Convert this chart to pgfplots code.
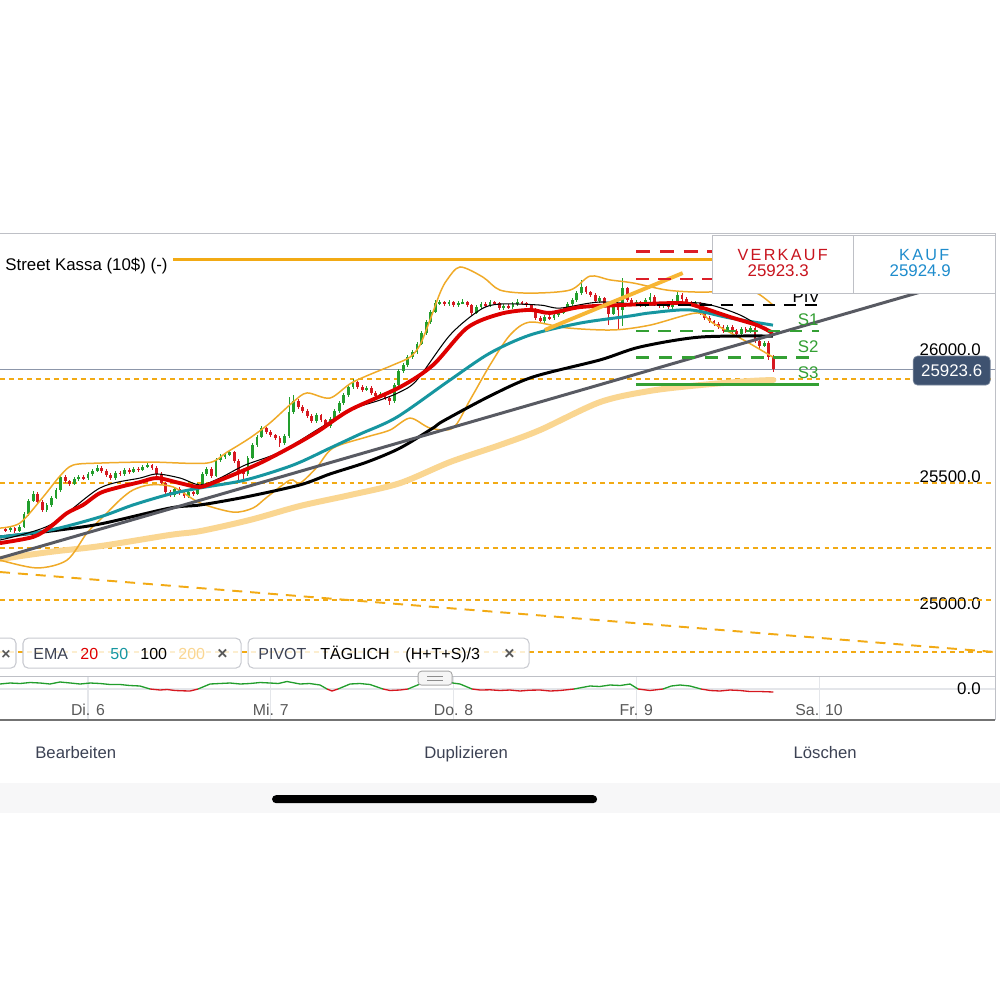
\documentclass[border=0pt]{standalone}
\usepackage{fontspec}
\setmainfont{Liberation Sans}
\usepackage{pgfplots}
\pgfplotsset{compat=1.18}
\usepackage{pgfplotstable}
\usepgfplotslibrary{fillbetween}

\definecolor{cgreen}{RGB}{34,158,44}
\definecolor{cred}{RGB}{214,24,32}
\definecolor{ema20}{RGB}{222,0,0}
\definecolor{ema50}{RGB}{22,150,160}
\definecolor{ema200}{RGB}{250,214,145}
\definecolor{bband}{RGB}{240,170,40}
\definecolor{bfill}{RGB}{253,246,236}
\definecolor{orng}{RGB}{242,170,20}
\definecolor{trendgray}{RGB}{88,90,98}
\definecolor{otrend}{RGB}{247,182,52}
\definecolor{pivgreen}{RGB}{52,160,52}
\definecolor{pivred}{RGB}{220,30,40}
\definecolor{tagblue}{RGB}{62,82,112}
\definecolor{kaufblue}{RGB}{30,140,205}
\definecolor{verkred}{RGB}{200,20,30}
\definecolor{uigray}{RGB}{60,66,84}
\definecolor{gridc}{RGB}{228,230,234}
\definecolor{framec}{RGB}{190,192,198}
\definecolor{pricel}{RGB}{140,150,170}
\definecolor{chipb}{RGB}{200,202,208}
\definecolor{bandgray}{RGB}{247,247,248}

\pgfplotstableread{
x o h l c
-10.8 25295 25302 25284 25291
-10.2 25291 25306 25285 25299
-9.6 25299 25305 25280 25287
-9.0 25287 25310 25282 25303
-8.4 25303 25362 25298 25354
-7.8 25354 25414 25348 25406
-7.2 25406 25445 25400 25433
-6.6 25433 25440 25395 25402
-6.0 25402 25408 25362 25370
-5.4 25370 25398 25364 25390
-4.8 25390 25425 25384 25418
-4.2 25418 25458 25412 25449
-3.6 25449 25510 25442 25500
-3.0 25500 25508 25476 25484
-2.4 25484 25490 25465 25473
-1.8 25473 25500 25468 25492
-1.2 25492 25510 25486 25500
-0.6 25500 25507 25488 25496
0.0 25496 25520 25490 25512
0.6 25512 25532 25506 25524
1.2 25524 25548 25518 25536
1.8 25536 25542 25516 25524
2.4 25524 25530 25500 25508
3.0 25508 25514 25488 25496
3.6 25496 25522 25490 25516
4.2 25516 25523 25505 25512
4.8 25512 25535 25506 25528
5.4 25528 25534 25513 25520
6.0 25520 25540 25515 25532
6.6 25532 25538 25521 25528
7.2 25528 25548 25522 25540
7.8 25540 25560 25534 25547
8.4 25547 25553 25529 25536
9.0 25536 25542 25505 25512
9.6 25512 25518 25468 25476
10.2 25476 25482 25433 25441
10.8 25441 25448 25420 25429
11.4 25429 25460 25423 25453
12.0 25453 25459 25430 25437
12.6 25437 25443 25417 25425
13.2 25425 25448 25419 25441
13.8 25441 25447 25426 25433
14.4 25433 25476 25428 25469
15.0 25469 25520 25463 25512
15.6 25512 25540 25506 25532
16.2 25532 25538 25497 25504
16.8 25504 25575 25499 25567
17.4 25567 25590 25560 25579
18.0 25579 25596 25572 25587
18.6 25587 25606 25581 25598
19.2 25598 25603 25556 25563
19.8 25563 25570 25488 25520
20.4 25520 25528 25490 25512
21.0 25512 25582 25506 25575
21.6 25575 25634 25569 25626
22.2 25626 25666 25620 25658
22.8 25658 25702 25652 25693
23.4 25693 25699 25670 25677
24.0 25677 25684 25657 25665
24.6 25665 25671 25646 25654
25.2 25654 25660 25618 25634
25.8 25634 25668 25628 25661
26.4 25661 25815 25655 25756
27.0 25756 25823 25750 25799
27.6 25799 25806 25769 25776
28.2 25776 25783 25752 25760
28.8 25760 25767 25732 25740
29.4 25740 25747 25712 25720
30.0 25720 25751 25714 25744
30.6 25744 25750 25716 25724
31.2 25724 25730 25693 25701
31.8 25701 25735 25695 25728
32.4 25728 25768 25722 25760
33.0 25760 25799 25754 25791
33.6 25791 25831 25785 25823
34.2 25823 25862 25817 25854
34.8 25854 25884 25848 25874
35.4 25874 25880 25846 25854
36.0 25854 25861 25835 25843
36.6 25843 25858 25837 25850
37.2 25850 25857 25823 25831
37.8 25831 25838 25811 25819
38.4 25819 25835 25813 25827
39.0 25827 25833 25803 25811
39.6 25811 25818 25784 25799
40.2 25799 25870 25793 25862
40.8 25862 25925 25856 25917
41.4 25917 25950 25911 25941
42.0 25941 25980 25935 25972
42.6 25972 26000 25966 25992
43.2 25992 26032 25986 26024
43.8 26024 26075 26018 26067
44.4 26067 26118 26061 26110
45.0 26110 26158 26104 26150
45.6 26150 26196 26144 26185
46.2 26185 26198 26179 26189
46.8 26189 26195 26174 26181
47.4 26181 26197 26175 26189
48.0 26189 26194 26170 26177
48.6 26177 26192 26171 26185
49.2 26185 26200 26180 26189
49.8 26189 26195 26170 26177
50.4 26177 26182 26138 26146
51.0 26146 26176 26140 26169
51.6 26169 26188 26163 26181
52.2 26181 26190 26170 26177
52.8 26177 26196 26171 26189
53.4 26189 26195 26178 26185
54.0 26185 26190 26158 26165
54.6 26165 26180 26159 26173
55.2 26173 26180 26162 26169
55.8 26169 26188 26163 26181
56.4 26181 26200 26175 26189
57.0 26189 26195 26178 26185
57.6 26185 26191 26170 26177
58.2 26177 26183 26150 26158
58.8 26158 26164 26118 26126
59.4 26126 26132 26106 26114
60.0 26114 26137 26108 26130
60.6 26130 26137 26119 26126
61.2 26126 26145 26120 26138
61.8 26138 26153 26132 26146
62.4 26146 26165 26140 26158
63.0 26158 26188 26152 26181
63.6 26181 26205 26175 26197
64.2 26197 26232 26191 26224
64.8 26224 26276 26218 26248
65.4 26248 26254 26220 26228
66.0 26228 26234 26209 26217
66.6 26217 26223 26185 26193
67.2 26193 26212 26187 26205
67.8 26205 26210 26169 26177
68.4 26177 26183 26099 26142
69.0 26142 26180 26136 26173
69.6 26173 26179 26079 26158
70.2 26158 26284 26095 26244
70.8 26244 26250 26190 26197
71.4 26197 26203 26173 26181
72.0 26181 26196 26175 26189
72.6 26189 26195 26170 26177
73.2 26177 26204 26171 26197
73.8 26197 26224 26191 26209
74.4 26209 26215 26174 26181
75.0 26181 26188 26166 26173
75.6 26173 26188 26167 26181
76.2 26181 26187 26162 26169
76.8 26169 26200 26163 26193
77.4 26193 26232 26187 26217
78.0 26217 26223 26194 26201
78.6 26201 26207 26182 26189
79.2 26189 26195 26174 26181
79.8 26181 26193 26175 26185
80.4 26185 26191 26138 26146
81.0 26146 26152 26118 26126
81.6 26126 26132 26106 26114
82.2 26114 26120 26095 26103
82.8 26103 26109 26083 26091
83.4 26091 26097 26067 26075
84.0 26075 26099 26069 26091
84.6 26091 26097 26067 26075
85.2 26075 26081 26055 26063
85.8 26063 26091 26057 26083
86.4 26083 26089 26068 26075
87.0 26075 26094 26069 26087
87.6 26087 26093 26028 26036
88.2 26036 26042 26006 26016
88.8 26016 26036 26010 26028
89.4 26028 26034 25962 25972
90.0 25972 25980 25915 25923.6
}\candles

\pgfplotsset{
  candle/.style n args={2}{draw=none, mark=none, forget plot,
    error bars/y dir=both, error bars/y explicit, error bars/error mark=none,
    error bars/error bar style={draw=#1, line width=#2}},
}

\begin{document}
\begin{tikzpicture}
\begin{scope}[x=0.02cm,y=-0.02cm]
\fill[white] (0,0) rectangle (1000,1000);
\fill[bandgray] (0,783) rectangle (1000,813);
\end{scope}

% ---------------- main price panel ----------------
\begin{axis}[
  at={(0cm,-4.66cm)}, anchor=north west,
  scale only axis, width=19.9cm, height=8.86cm,
  xmin=-11.56, xmax=119.11, ymin=24716.6, ymax=26460.7,
  axis line style={draw=none},
  xtick={0,24,48,72,96}, xticklabels={}, xmajorgrids,
  ytick={25000,25500,26000}, ymajorgrids,
  scaled y ticks=false,
  grid style={gridc, line width=0.6pt},
  major tick length=0pt,
  yticklabel pos=right,
  yticklabel style={anchor=east, inner sep=0pt, xshift=-0.28cm,
    font=\fontsize{9.6}{11}\selectfont, text=black},
  /pgf/number format/fixed, /pgf/number format/fixed zerofill,
  /pgf/number format/precision=1, /pgf/number format/1000 sep={},
  /pgf/number format/assume math mode=true,
]
% Bollinger band area
\addplot[name path=bbu, draw=none, smooth] coordinates {(-11.56,25299) (-8.93,25319) (-5.91,25421) (-3.68,25504) (-1.97,25547) (1.58,25555) (8.14,25559) (15.63,25555) (18.25,25598) (21.27,25654) (23.90,25713) (26.92,25795) (28.76,25831) (31.78,25811) (34.80,25874) (40.05,25941) (42.28,25972) (43.60,26020) (44.91,26118) (46.22,26224) (47.14,26276) (48.85,26327) (51.87,26287) (54.10,26236) (58.04,26224) (63.30,26236) (65.92,26291) (68.55,26276) (71.57,26264) (76.03,26236) (80.37,26228) (85.62,26232) (87.85,26224) (89.95,26177)};
\addplot[name path=bbl, draw=none, smooth] coordinates {(-11.56,25173) (-6.70,25142) (-2.76,25173) (-0.13,25280) (1.97,25343) (4.20,25410) (5.91,25449) (8.14,25469) (11.16,25461) (14.71,25398) (19.04,25362) (21.67,25378) (23.51,25421) (26.53,25488) (27.84,25476) (30.07,25539) (32.17,25614) (36.64,25658) (39.66,25685) (42.28,25732) (44.91,25693) (47.93,25693) (50.16,25803) (52.79,25941) (55.42,26059) (58.04,26110) (62.90,26087) (68.94,26079) (73.80,26098) (79.97,26146) (82.07,26106) (86.54,26032) (89.95,25972)};
\addplot[bfill] fill between[of=bbu and bbl];

% horizontal orange dotted levels
\addplot[orng, line width=0.85pt, dash pattern=on 2.8pt off 2.3pt] coordinates {(-11.56,25886) (119.11,25886)};
\addplot[orng, line width=0.85pt, dash pattern=on 2.8pt off 2.3pt] coordinates {(-11.56,25476) (119.11,25476)};
\addplot[orng, line width=0.85pt, dash pattern=on 2.8pt off 2.3pt] coordinates {(-11.56,25220) (119.11,25220)};
\addplot[orng, line width=0.85pt, dash pattern=on 2.8pt off 2.3pt] coordinates {(-11.56,25016) (119.11,25016)};
\addplot[orng, line width=0.85pt, dash pattern=on 2.8pt off 2.3pt] coordinates {(-11.56,24811) (119.11,24811)};
% current price line
\addplot[pricel, line width=0.6pt] coordinates {(-11.56,25923.6) (119.11,25923.6)};
% descending dashed trend
\addplot[orng, line width=1.1pt, dash pattern=on 5.7pt off 4.5pt] coordinates {(-11.56,25126) (119.11,24811)};
% Street Kassa level
\addplot[orng, line width=1.7pt] coordinates {(11.16,26358) (119.11,26358)};

% EMA 200
\addplot[ema200, line width=3.4pt, smooth, line cap=round] coordinates {(-11.56,25177) (-4.99,25205) (1.58,25228) (10.77,25272) (14.71,25287) (21.27,25331) (27.84,25386) (34.41,25429) (40.97,25476) (47.54,25559) (54.10,25626) (59.36,25685) (67.24,25795) (73.80,25839) (80.37,25862) (86.93,25878) (90.0,25882)};

% candles: wicks
\addplot[restrict expr to domain={\thisrow{c}-\thisrow{o}}{0:100000}, candle={cgreen}{0.5pt}]
  table[x=x, y expr=(\thisrow{h}+\thisrow{l})/2, y error expr=(\thisrow{h}-\thisrow{l})/2] {\candles};
\addplot[restrict expr to domain={\thisrow{o}-\thisrow{c}}{0.01:100000}, candle={cred}{0.5pt}]
  table[x=x, y expr=(\thisrow{h}+\thisrow{l})/2, y error expr=(\thisrow{h}-\thisrow{l})/2] {\candles};
% candles: bodies
\addplot[restrict expr to domain={\thisrow{c}-\thisrow{o}}{0:100000}, candle={cgreen}{1.6pt}]
  table[x=x, y expr=(\thisrow{o}+\thisrow{c})/2, y error expr=(\thisrow{c}-\thisrow{o})/2] {\candles};
\addplot[restrict expr to domain={\thisrow{o}-\thisrow{c}}{0.01:100000}, candle={cred}{1.6pt}]
  table[x=x, y expr=(\thisrow{o}+\thisrow{c})/2, y error expr=(\thisrow{o}-\thisrow{c})/2] {\candles};

% Bollinger lines
\addplot[bband, line width=0.85pt, smooth] coordinates {(-11.56,25299) (-8.93,25319) (-5.91,25421) (-3.68,25504) (-1.97,25547) (1.58,25555) (8.14,25559) (15.63,25555) (18.25,25598) (21.27,25654) (23.90,25713) (26.92,25795) (28.76,25831) (31.78,25811) (34.80,25874) (40.05,25941) (42.28,25972) (43.60,26020) (44.91,26118) (46.22,26224) (47.14,26276) (48.85,26327) (51.87,26287) (54.10,26236) (58.04,26224) (63.30,26236) (65.92,26291) (68.55,26276) (71.57,26264) (76.03,26236) (80.37,26228) (85.62,26232) (87.85,26224) (89.95,26177)};
\addplot[bband, line width=0.85pt, smooth] coordinates {(-11.56,25173) (-6.70,25142) (-2.76,25173) (-0.13,25280) (1.97,25343) (4.20,25410) (5.91,25449) (8.14,25469) (11.16,25461) (14.71,25398) (19.04,25362) (21.67,25378) (23.51,25421) (26.53,25488) (27.84,25476) (30.07,25539) (32.17,25614) (36.64,25658) (39.66,25685) (42.28,25732) (44.91,25693) (47.93,25693) (50.16,25803) (52.79,25941) (55.42,26059) (58.04,26110) (62.90,26087) (68.94,26079) (73.80,26098) (79.97,26146) (82.07,26106) (86.54,26032) (89.95,25972)};

% EMA 100
\addplot[black, line width=1.7pt, smooth] coordinates {(-11.56,25264) (-4.99,25287) (1.58,25315) (10.77,25378) (14.71,25390) (20.62,25421) (27.84,25469) (31.78,25512) (36.64,25559) (40.97,25614) (45.31,25693) (46.62,25720) (52.79,25819) (58.44,25894) (67.24,25961) (72.49,26012) (80.37,26051) (89.95,26055)};
% EMA 50
\addplot[ema50, line width=1.7pt, smooth] coordinates {(-11.56,25264) (-4.99,25291) (1.58,25343) (5.91,25390) (10.77,25433) (14.71,25457) (20.62,25488) (26.92,25547) (31.78,25614) (35.72,25669) (40.58,25736) (47.54,25882) (52.79,25988) (58.04,26059) (64.61,26106) (71.18,26134) (73.80,26146) (79.05,26158) (84.31,26126) (89.95,26098)};
% thin middle line
\addplot[black, line width=0.6pt, smooth] coordinates {(-11.56,25252) (-4.99,25311) (1.58,25457) (6.83,25496) (9.06,25512) (12.08,25496) (14.71,25469) (17.33,25496) (20.62,25547) (25.21,25598) (30.47,25693) (34.41,25764) (38.35,25803) (40.97,25835) (43.20,25882) (47.54,26059) (51.48,26158) (54.10,26181) (59.36,26177) (61.98,26165) (67.24,26189) (73.80,26177) (80.37,26185) (85.62,26138) (89.95,26059)};
% EMA 20
\addplot[ema20, line width=2.2pt, smooth] coordinates {(-11.56,25240) (-7.22,25264) (-4.99,25303) (-2.76,25358) (-0.66,25390) (1.58,25437) (4.20,25461) (6.83,25480) (9.06,25496) (12.08,25476) (14.71,25461) (17.33,25488) (19.96,25520) (22.59,25555) (25.21,25595) (27.84,25638) (30.47,25685) (34.41,25764) (40.97,25854) (45.31,25941) (49.77,26087) (54.10,26142) (58.04,26158) (60.67,26146) (64.61,26169) (69.86,26177) (77.74,26185) (80.37,26169) (84.31,26130) (87.85,26098) (89.95,26067)};

% gray trend line
\addplot[trendgray, line width=1.7pt] coordinates {(-11.56,25181) (119.11,26313)};
% orange trend line
\addplot[otrend, line width=2.2pt] coordinates {(60.0,26079) (78.1,26303)};

% pivots
\addplot[pivred, line width=1.7pt, dash pattern=on 8pt off 5.5pt] coordinates {(72,26386) (96,26386)};
\addplot[pivred, line width=1.0pt, dash pattern=on 7pt off 5.5pt] coordinates {(72,26280) (96,26280)};
\addplot[black, line width=1.1pt, dash pattern=on 7pt off 5pt] coordinates {(72,26177) (96,26177)};
\addplot[pivgreen, line width=0.9pt, dash pattern=on 7pt off 5.5pt] coordinates {(72,26075) (96,26075)};
\addplot[pivgreen, line width=1.7pt, dash pattern=on 7.5pt off 5.5pt] coordinates {(72,25969) (96,25969)};
\addplot[pivgreen, line width=1.7pt] coordinates {(72,25866) (96,25866)};
\end{axis}

% ---------------- oscillator panel ----------------
\begin{axis}[
  at={(0cm,-13.54cm)}, anchor=north west,
  scale only axis, width=19.9cm, height=0.86cm,
  xmin=-11.56, xmax=119.11, ymin=-31, ymax=12,
  axis line style={draw=none},
  xtick={0,24,48,72,96},
  xticklabels={Di. 6, Mi. 7, Do. 8, Fr. 9, Sa. 10},
  xmajorgrids, ytick={0}, ymajorgrids,
  grid style={gridc, line width=0.6pt},
  major tick length=0pt,
  xticklabel style={anchor=center, inner sep=0pt, yshift=0.2cm,
    font=\fontsize{9}{10}\selectfont, text=black!65},
  yticklabel pos=right,
  yticklabel style={anchor=east, inner sep=0pt, xshift=-0.28cm,
    font=\fontsize{9.6}{11}\selectfont, text=black},
  /pgf/number format/fixed, /pgf/number format/fixed zerofill,
  /pgf/number format/precision=1,
  /pgf/number format/assume math mode=true,
]
\addplot[cgreen, line width=0.75pt] coordinates {(-11.56,5) (-10.24,6) (-8.93,5.5) (-7.6,6.5) (-6.30,6) (-5.0,5) (-3.68,7) (-2.3,6) (-1.05,5) (0.3,6) (1.58,5.5) (2.9,4.5) (4.20,4.5) (5.5,3.5) (6.83,3) (8.14,0)};
\addplot[cred, line width=0.75pt] coordinates {(8.14,0) (9.46,-1) (10.4,-0.5) (11.42,-1.5) (12.4,-1.8) (13.39,-2) (14.45,0)};
\addplot[cgreen, line width=0.75pt] coordinates {(14.45,0) (16.02,5) (17.3,5.5) (18.65,6) (20.0,5) (21.27,5.5) (22.6,6.5) (23.90,6) (25.0,5.5) (26.13,7.5) (27.84,5) (29.1,5.5) (30.47,4) (31.39,0)};
\addplot[cred, line width=0.75pt] coordinates {(31.39,0) (32.04,-2) (32.83,0)};
\addplot[cgreen, line width=0.75pt] coordinates {(32.83,0) (34.41,5) (35.7,5.5) (37.03,4.5) (38.74,0)};
\addplot[cred, line width=0.75pt] coordinates {(38.74,0) (39.66,-1.5) (40.97,-1) (42.02,0)};
\addplot[cgreen, line width=0.75pt] coordinates {(42.02,0) (43.60,5) (44.9,5.5) (46.22,6) (47.01,8) (47.9,6) (48.85,5) (50.43,0)};
\addplot[cred, line width=0.75pt] coordinates {(50.43,0) (51.48,-1) (52.8,-0.8) (54.10,-1.5) (55.4,-1) (56.73,-2) (58.0,-1.2) (59.36,-1) (60.7,-2) (61.98,-1.5) (63.82,0)};
\addplot[cgreen, line width=0.75pt] coordinates {(63.82,0) (65.92,3) (67.2,2.5) (68.55,4) (69.9,3.5) (71.18,5) (72.23,0)};
\addplot[cred, line width=0.75pt] coordinates {(72.23,0) (73.80,-1.5) (75.51,0)};
\addplot[cgreen, line width=0.75pt] coordinates {(75.51,0) (76.6,3) (77.74,4) (79.05,3) (80.50,0)};
\addplot[cred, line width=0.75pt] coordinates {(80.50,0) (81.7,-1.5) (82.99,-2) (84.3,-1) (85.62,-1.5) (86.9,-2.5) (88.25,-2.5) (90.0,-3)};
\end{axis}

% ---------------- overlays in pixel coordinates ----------------
\begin{scope}[x=0.02cm,y=-0.02cm]
% frame lines
\draw[framec, line width=0.7pt] (0,233.5) -- (995,233.5);
\draw[framec, line width=0.7pt] (995,233) -- (995,720);
\draw[framec, line width=0.7pt] (0,676.5) -- (995,676.5);
\draw[black!55, line width=0.9pt] (0,720) -- (995,720);

% Street Kassa label
\node[anchor=west, inner sep=0pt, font=\fontsize{9.6}{11}\selectfont] at (5,266) {Street Kassa (10\$) (-)};

% pivot labels
\node[inner sep=0pt, font=\fontsize{9.6}{11}\selectfont] at (806,297) {PIV};
\node[inner sep=0pt, text=pivgreen, font=\fontsize{9.6}{11}\selectfont] at (808,320) {S1};
\node[inner sep=0pt, text=pivgreen, font=\fontsize{9.6}{11}\selectfont] at (808,347) {S2};
\node[inner sep=0pt, text=pivgreen, font=\fontsize{9.6}{11}\selectfont] at (808,373) {S3};

% sell / buy box
\draw[fill=white, draw=framec, line width=0.6pt] (712,235) rectangle (995,293);
\draw[framec, line width=0.6pt] (853,235) -- (853,293);
\node[inner sep=0pt, text=verkred, font=\fontsize{9.2}{10}\selectfont] at (782.5,255) {V\kern1.3pt E\kern1.3pt R\kern1.3pt K\kern1.3pt A\kern1.3pt U\kern1.3pt F};
\node[inner sep=0pt, text=verkred, font=\fontsize{9.6}{10}\selectfont] at (778,270.5) {25923.3};
\node[inner sep=0pt, text=kaufblue, font=\fontsize{9.2}{10}\selectfont] at (924,255) {K\kern1.3pt A\kern1.3pt U\kern1.3pt F};
\node[inner sep=0pt, text=kaufblue, font=\fontsize{9.6}{10}\selectfont] at (920,270.5) {25924.9};

% last price tag
\node[fill=tagblue, draw=tagblue!70!white, line width=0.4pt, rounded corners=2.5pt, text=white, inner sep=0pt,
  minimum width=1.54cm, minimum height=0.58cm, font=\fontsize{9.6}{11}\selectfont] at (951.5,370.5) {25923.6};

% indicator chips
\draw[fill=white, fill opacity=0.8, draw=chipb, rounded corners=3pt, line width=0.6pt] (-60,638) rectangle (16,668);
\node[anchor=base west, inner sep=0pt, text=black!65, font=\bfseries\fontsize{9}{10}\selectfont] at (1,659) {×};
\draw[fill=white, fill opacity=0.8, draw=chipb, rounded corners=3pt, line width=0.6pt] (23,638) rectangle (241,668);
\node[anchor=base west, inner sep=0pt, text=uigray, font=\fontsize{9.1}{10}\selectfont] at (33,659) {EMA};
\node[anchor=base west, inner sep=0pt, text=ema20, font=\fontsize{9.1}{10}\selectfont] at (80,659) {20};
\node[anchor=base west, inner sep=0pt, text=ema50, font=\fontsize{9.1}{10}\selectfont] at (110,659) {50};
\node[anchor=base west, inner sep=0pt, text=black, font=\fontsize{9.1}{10}\selectfont] at (140,659) {100};
\node[anchor=base west, inner sep=0pt, text=ema200, font=\fontsize{9.1}{10}\selectfont] at (178,659) {200};
\node[anchor=base west, inner sep=0pt, text=black!65, font=\bfseries\fontsize{10}{11}\selectfont] at (217,659) {×};
\draw[fill=white, fill opacity=0.8, draw=chipb, rounded corners=3pt, line width=0.6pt] (248,638) rectangle (529,668);
\node[anchor=base west, inner sep=0pt, text=uigray, font=\fontsize{9.1}{10}\selectfont] at (258,659) {PIVOT};
\node[anchor=base west, inner sep=0pt, text=black, font=\fontsize{9.1}{10}\selectfont] at (320,659) {TÄGLICH};
\node[anchor=base west, inner sep=0pt, text=black, font=\fontsize{9.1}{10}\selectfont] at (405,659) {(H+T+S)/3};
\node[anchor=base west, inner sep=0pt, text=black!65, font=\bfseries\fontsize{10}{11}\selectfont] at (504,659) {×};

% panel handle
\draw[fill=black!4, draw=black!35, rounded corners=2pt, line width=0.5pt] (418,671) rectangle (452,685);
\draw[black!45, line width=0.6pt] (427,676) -- (443,676) (427,680) -- (443,680);

% bottom toolbar
\node[anchor=base west, inner sep=0pt, text=uigray, font=\fontsize{9.5}{11}\selectfont] at (35,758) {Bearbeiten};
\node[anchor=base, inner sep=0pt, text=uigray, font=\fontsize{9.5}{11}\selectfont] at (466,758) {Duplizieren};
\node[anchor=base, inner sep=0pt, text=uigray, font=\fontsize{9.5}{11}\selectfont] at (825,758) {Löschen};
\fill[black, rounded corners=0.08cm] (272,795) rectangle (597,803);
\end{scope}
\pgfresetboundingbox
\path[use as bounding box] (0,0) rectangle (20cm,-20cm);
\end{tikzpicture}
\end{document}
